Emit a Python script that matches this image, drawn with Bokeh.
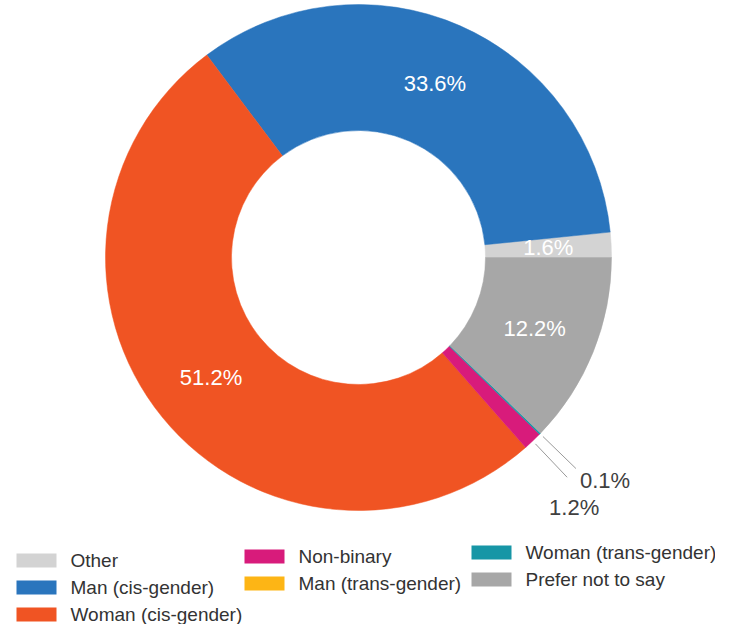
import math
from bokeh.plotting import figure
from bokeh.models import Range1d, ColumnDataSource
from bokeh.core.properties import value
from bokeh.embed import file_html
from bokeh.resources import INLINE

# ---- data ----
categories = ["Other", "Man (cis-gender)", "Woman (cis-gender)", "Non-binary",
              "Man (trans-gender)", "Woman (trans-gender)", "Prefer not to say"]
percent = [1.6, 33.6, 51.2, 1.2, 0.0, 0.1, 12.2]
colors = ["#D3D3D3", "#2A75BD", "#F05423", "#D81B7B", "#FDB515", "#1796A6", "#A7A7A7"]
label_inside = [True, True, True, False, False, False, True]

FONT = "Liberation Sans"
W, H = 715, 624

p = figure(width=W, height=H, output_backend="svg", toolbar_location=None,
           x_range=Range1d(0, W), y_range=Range1d(-H, 0),
           x_axis_location=None, y_axis_location=None, min_border=0)
p.grid.visible = False
p.outline_line_color = None
p.background_fill_color = "white"
p.border_fill_color = "white"

cx, cy = 358, -257
r_in, r_out = 127, 253

total = sum(percent)
starts, ends, mids = [], [], []
acc = 0.0
for v in percent:
    a0 = acc / total * 2 * math.pi
    acc += v
    a1 = acc / total * 2 * math.pi
    starts.append(a0)
    ends.append(a1)
    mids.append((a0 + a1) / 2)

keep = [i for i, v in enumerate(percent) if v > 0]
src = ColumnDataSource(dict(start=[starts[i] for i in keep], end=[ends[i] for i in keep],
                            color=[colors[i] for i in keep]))
p.annular_wedge(x=cx, y=cy, inner_radius=r_in, outer_radius=r_out,
                start_angle="start", end_angle="end", fill_color="color",
                line_color="color", line_width=0.5, direction="anticlock", source=src)

# inside labels
rm = (r_in + r_out) / 2
lx, ly, lt = [], [], []
for v, m, ins in zip(percent, mids, label_inside):
    if ins:
        lx.append(cx + rm * math.cos(m))
        ly.append(cy + rm * math.sin(m))
        lt.append(f"{v:.1f}%")
p.text(x=lx, y=ly, text=lt, text_color="white", text_font=value(FONT),
       text_font_size="22px", text_align="center", text_baseline="middle")

# outside labels with leader lines
out_idx = [i for i, v in enumerate(percent) if (not label_inside[i]) and v > 0]
for i in out_idx:
    m = mids[i]
    x0, y0 = cx + (r_out + 4) * math.cos(m), cy + (r_out + 4) * math.sin(m)
    x1, y1 = cx + 303 * math.cos(m), cy + 303 * math.sin(m)
    p.line([x0, x1], [y0, y1], line_color="#9A9A9A", line_width=1)
    if categories[i] == "Woman (trans-gender)":
        tx, ty, al = x1 + 4, y1 - 12, "left"
    else:
        tx, ty, al = x1 + 7, y1 - 30, "center"
    p.text(x=[tx], y=[ty], text=[f"{percent[i]:.1f}%"], text_color="#404040",
           text_font=value(FONT), text_font_size="22px", text_align=al,
           text_baseline="middle")

# legend (manual, 3 columns)
columns = [[0, 1, 2], [3, 4], [5, 6]]
col_sw_x = [16, 244, 471]
col_y0 = [560, 556, 552]
step = 27
sw_w, sw_h = 40, 14
for c, idxs in enumerate(columns):
    for r, i in enumerate(idxs):
        yy = -(col_y0[c] + r * step)
        p.rect(x=[col_sw_x[c] + sw_w / 2], y=[yy], width=sw_w, height=sw_h,
               fill_color=colors[i], line_color=None)
        p.text(x=[col_sw_x[c] + sw_w + 14], y=[yy], text=[categories[i]],
               text_color="#333333", text_font=value(FONT), text_font_size="19px",
               text_align="left", text_baseline="middle")

open("out.html", "w").write(file_html(p, INLINE))
